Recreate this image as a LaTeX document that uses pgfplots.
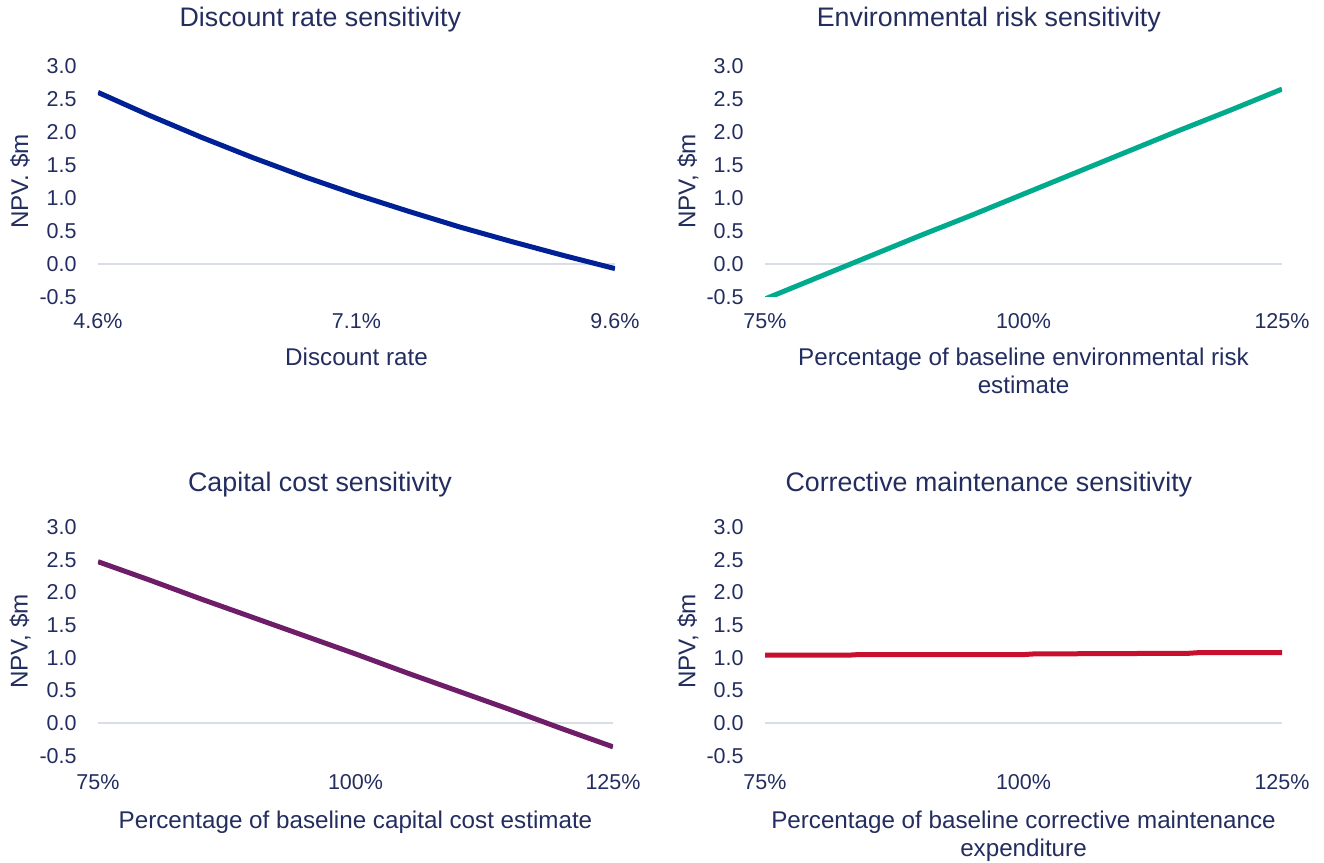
\documentclass[border=0pt]{standalone}
\usepackage{fontspec}
\setmainfont{Liberation Sans}
\usepackage{pgfplots}
\pgfplotsset{compat=1.18}
\definecolor{txt}{RGB}{35,45,95}
\definecolor{cblue}{RGB}{0,32,150}
\definecolor{cteal}{RGB}{0,170,140}
\definecolor{cpurple}{RGB}{110,30,105}
\definecolor{cred}{RGB}{200,16,46}
\definecolor{zgray}{RGB}{217,222,230}
\pgfplotsset{
  every axis title shift=0pt,
  sens/.style={
    scale only axis,
    width=258.5pt, height=115.5pt,
    anchor=south west,
    axis line style={draw=none},
    ymin=-0.5, ymax=3.0,
    ytick={-0.5,0,0.5,1,1.5,2,2.5,3},
    yticklabels={-0.5,0.0,0.5,1.0,1.5,2.0,2.5,3.0},
    major tick length=0pt,
    tick style={draw=none},
    every tick label/.append style={font=\fontsize{10.75}{12}\selectfont, text=txt},
    yticklabel style={anchor=east, inner sep=0pt, xshift=-10.5pt},
    xticklabel style={anchor=north, inner sep=0pt, yshift=-8pt},
    title style={font=\fontsize{13.4}{16}\selectfont, text=txt, anchor=center, inner sep=0pt, yshift=0pt},
    xlabel style={font=\fontsize{12.1}{14}\selectfont, text=txt, anchor=north, inner sep=0pt, align=center, at={(axis description cs:0.5,-0.22)}},
    ylabel style={font=\fontsize{12.1}{14}\selectfont, text=txt, anchor=center, inner sep=0pt, rotate=0, at={(axis description cs:-0.151,0.5)}},
    clip=true,
  },
}
\begin{document}
\begin{tikzpicture}
\path (0,0) rectangle (662pt,431.5pt);
% Top left
\begin{axis}[sens, at={(49pt,283pt)},
  xmin=4.6, xmax=9.6, xtick={4.6,7.1,9.6}, xticklabels={4.6\%,7.1\%,9.6\%},
  title={Discount rate sensitivity}, title style={at={(axis description cs:0.43,1.2)}},
  xlabel={Discount rate}, ylabel={NPV. \$m}]
\addplot[draw=zgray, line width=1pt] coordinates {(4.6,0) (9.6,0)};
\addplot[draw=cblue, line width=2.5pt] coordinates {
(4.6,2.60) (5.1,2.25) (5.6,1.92) (6.1,1.61) (6.6,1.32) (7.1,1.05)
(7.6,0.80) (8.1,0.56) (8.6,0.34) (9.1,0.13) (9.6,-0.07)};
\end{axis}
% Top right
\begin{axis}[sens, at={(382.5pt,283pt)},
  xmin=75, xmax=125, xtick={75,100,125}, xticklabels={75\%,100\%,125\%},
  title={Environmental risk sensitivity}, title style={at={(axis description cs:0.433,1.2)}},
  xlabel={Percentage of baseline environmental risk\\estimate}, ylabel={NPV, \$m},
  ylabel style={at={(axis description cs:-0.149,0.5)}}]
\addplot[draw=zgray, line width=1pt] coordinates {(75,0) (125,0)};
\addplot[draw=cteal, line width=2.5pt] coordinates {
(75,-0.53) (80,-0.21) (85,0.11) (90,0.43) (95,0.74) (100,1.06)
(105,1.38) (110,1.70) (115,2.02) (120,2.33) (125,2.65)};
\end{axis}
% Bottom left
\begin{axis}[sens, at={(49pt,53.5pt)}, width=257.5pt, height=114.5pt,
  xmin=75, xmax=125, xtick={75,100,125}, xticklabels={75\%,100\%,125\%},
  xticklabel style={yshift=-1pt},
  title={Capital cost sensitivity}, title style={at={(axis description cs:0.431,1.185)}},
  xlabel={Percentage of baseline capital cost estimate}, ylabel={NPV, \$m},
  xlabel style={at={(axis description cs:0.5,-0.24)}}]
\addplot[draw=zgray, line width=1pt] coordinates {(75,0) (125,0)};
\addplot[draw=cpurple, line width=2.5pt] coordinates {
(75,2.47) (80,2.19) (85,1.90) (90,1.62) (95,1.34) (100,1.06)
(105,0.77) (110,0.49) (115,0.21) (120,-0.08) (125,-0.36)};
\end{axis}
% Bottom right
\begin{axis}[sens, at={(382.5pt,53.5pt)}, height=114.5pt,
  xmin=75, xmax=125, xtick={75,100,125}, xticklabels={75\%,100\%,125\%},
  xticklabel style={yshift=-1pt},
  title={Corrective maintenance sensitivity}, title style={at={(axis description cs:0.433,1.185)}},
  xlabel={Percentage of baseline corrective maintenance\\expenditure}, ylabel={NPV, \$m},
  xlabel style={at={(axis description cs:0.5,-0.24)}},
  ylabel style={at={(axis description cs:-0.149,0.5)}}]
\addplot[draw=zgray, line width=1pt] coordinates {(75,0) (125,0)};
\addplot[draw=cred, line width=2.5pt] coordinates {
(75,1.04) (83,1.04) (84,1.05) (100,1.05) (101,1.06) (116,1.07) (117,1.08) (125,1.08)};
\end{axis}
\end{tikzpicture}
\end{document}
